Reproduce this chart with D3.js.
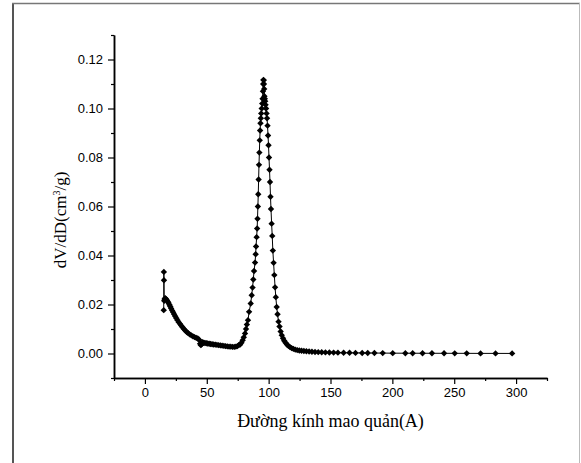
<!DOCTYPE html>
<html>
<head>
<meta charset="utf-8">
<script src="https://cdn.jsdelivr.net/npm/d3@7"></script>
<style>
  body { margin: 0; background: #fff; }
  svg { display: block; }
</style>
</head>
<body>
<div id="chart"></div>
<script>
// pore diameter (A) and dV/dD (cm3/g)
var diam = [
  15.2, 15.3, 15.4, 15.6, 15.9, 16.3, 16.8, 17.3, 17.9, 18.5, 19.1, 19.8, 20.5, 21.2, 22.0,
  22.8, 23.6, 24.5, 25.4, 26.3, 27.3, 28.3, 29.3, 30.4, 31.5, 32.6, 33.8, 35.0, 36.2, 37.5,
  38.8, 40.1, 41.4, 42.7, 43.8, 44.6, 45.2, 45.8, 46.5, 47.5, 48.5, 49.6, 50.7, 51.9, 53.1,
  54.3, 55.6, 56.9, 58.2, 59.6, 61.0, 62.4, 63.8, 65.2, 66.6, 68.0, 69.4, 70.8, 72.2, 73.5,
  74.7, 75.8, 76.9, 78.0, 79.0, 79.9, 80.9, 81.7, 82.4, 83.3, 84.2, 85.5, 86.3, 87.0, 87.6,
  88.2, 89.0, 89.5, 89.8, 90.3, 90.7, 91.0, 91.3, 91.6, 91.9, 92.2, 92.5, 92.8, 93.1, 93.4,
  93.7, 94.0, 94.4, 94.8, 95.1, 95.4, 95.6, 95.8, 96.0, 96.2, 96.4, 96.6, 96.9, 97.2, 97.5,
  97.9, 98.3, 98.7, 99.1, 99.5, 99.9, 100.3, 100.7, 101.1, 101.5, 101.9, 102.4, 102.9, 103.4, 104.0,
  104.6, 105.2, 105.8, 106.5, 107.2, 108.0, 108.8, 109.7, 110.6, 111.6, 112.6, 113.7, 114.8, 116.0, 117.3,
  118.6, 120.0, 121.5, 123.1, 124.8, 126.6, 128.5, 130.5, 132.7, 135.0, 137.5, 140.1, 142.9, 145.9, 149.1,
  152.5, 156.0, 160.6, 165.4, 170.2, 175.6, 180.1, 185.5, 192.2, 200.3, 210.5, 216.4, 224.4, 232.0, 241.8,
  250.4, 260.1, 271.3, 283.4, 296.8
];
var dvdd = [
  0.0177, 0.0333, 0.0299, 0.0215, 0.0222, 0.0226, 0.0224, 0.0220, 0.0216, 0.0211, 0.0206, 0.0199, 0.0192, 0.0184, 0.0176,
  0.0168, 0.0160, 0.0152, 0.0144, 0.0136, 0.0128, 0.0121, 0.0114, 0.0107, 0.0100, 0.0094, 0.0088, 0.0083, 0.0078, 0.0074,
  0.0070, 0.0067, 0.0064, 0.0061, 0.0056, 0.0040, 0.0034, 0.0038, 0.0046, 0.0044, 0.0043, 0.0042, 0.0041, 0.0040, 0.0039,
  0.0038, 0.0037, 0.0036, 0.0035, 0.0034, 0.0033, 0.0032, 0.0031, 0.0030, 0.0029, 0.0028, 0.0028, 0.0027, 0.0027, 0.0028,
  0.0030, 0.0034, 0.0036, 0.0044, 0.0054, 0.0066, 0.0082, 0.0100, 0.0118, 0.0136, 0.0170, 0.0204, 0.0238, 0.0269, 0.0302,
  0.0337, 0.0371, 0.0405, 0.0437, 0.0475, 0.0510, 0.0550, 0.0600, 0.0650, 0.0710, 0.0770, 0.0820, 0.0870, 0.0910, 0.0940,
  0.0960, 0.0980, 0.1000, 0.1020, 0.1040, 0.1070, 0.1100, 0.1117, 0.1115, 0.1100, 0.1080, 0.1050, 0.1040, 0.1030, 0.1015,
  0.1000, 0.0980, 0.0960, 0.0930, 0.0890, 0.0850, 0.0800, 0.0750, 0.0700, 0.0640, 0.0590, 0.0530, 0.0480, 0.0420, 0.0370,
  0.0320, 0.0270, 0.0230, 0.0190, 0.0160, 0.0130, 0.0110, 0.0090, 0.0075, 0.0062, 0.0052, 0.0044, 0.0037, 0.0031, 0.0026,
  0.0022, 0.0019, 0.0016, 0.0014, 0.0012, 0.0011, 0.0010, 0.0009, 0.0008, 0.0007, 0.0006, 0.00055, 0.0005, 0.00045, 0.0004,
  0.00037, 0.00034, 0.0003, 0.00028, 0.00025, 0.00023, 0.0002, 0.00018, 0.00016, 0.00014, 0.00012, 0.00011, 0.0001, 0.00009, 0.00008,
  0.00007, 0.00006, 0.00005, 0.00004, 0.00003
];

var xMajor = [0, 50, 100, 150, 200, 250, 300];
var xMinor = [-25, 25, 75, 125, 175, 225, 275, 325];
var yMajor = [0.00, 0.02, 0.04, 0.06, 0.08, 0.10, 0.12];
var yMinor = [-0.01, 0.01, 0.03, 0.05, 0.07, 0.09, 0.11, 0.13];

var xTitle = "Đường kính mao quản(A)";

var width = 581, height = 463;
var mLeft = 114, mRight = 547, mTop = 35, mBottom = 378;

var svg = d3.select("#chart").append("svg")
  .attr("width", width)
  .attr("height", height);

// frame round the picture
svg.append("line").attr("x1", 13).attr("x2", 13).attr("y1", 3).attr("y2", height)
  .attr("stroke", "#555").attr("stroke-width", 2);
svg.append("line").attr("x1", 12).attr("x2", 580).attr("y1", 3.5).attr("y2", 3.5)
  .attr("stroke", "#777").attr("stroke-width", 1.5);
svg.append("line").attr("x1", 579.5).attr("x2", 579.5).attr("y1", 3).attr("y2", height)
  .attr("stroke", "#bbb").attr("stroke-width", 1);

var x = d3.scaleLinear().domain([-25, 325]).range([mLeft, mRight]);
var y = d3.scaleLinear().domain([-0.01, 0.13]).range([mBottom, mTop]);

//x axis, minor ticks in their own group
svg.append("g").attr("transform", "translate(0," + mBottom + ")")
  .call(d3.axisBottom(x).tickValues(xMinor).tickSize(3).tickSizeOuter(0).tickFormat(""));
svg.append("g").attr("transform", "translate(0," + mBottom + ")")
  .call(d3.axisBottom(x).tickValues(xMajor).tickSize(6).tickSizeOuter(0).tickPadding(4)
    .tickFormat(d3.format("d")));

//y axis
svg.append("g").attr("transform", "translate(" + mLeft + ",0)")
  .call(d3.axisLeft(y).tickValues(yMinor).tickSize(3).tickSizeOuter(0).tickFormat(""));
svg.append("g").attr("transform", "translate(" + mLeft + ",0)")
  .call(d3.axisLeft(y).tickValues(yMajor).tickSize(6).tickSizeOuter(0).tickPadding(5)
    .tickFormat(d3.format(".2f")));

svg.selectAll(".domain").attr("stroke", "#000").attr("stroke-width", 1.5);
svg.selectAll(".tick line").attr("stroke", "#000").attr("stroke-width", 1.2);
svg.selectAll(".tick text")
  .attr("font-family", "'Liberation Sans', Arial, sans-serif")
  .attr("font-size", 13)
  .attr("fill", "#000");

//titles
svg.append("text")
  .attr("x", (mLeft + mRight) / 2)
  .attr("y", 427)
  .attr("text-anchor", "middle")
  .attr("font-family", "'Liberation Serif', 'Times New Roman', serif")
  .attr("font-size", 18)
  .text(xTitle);

var yt = svg.append("text")
  .attr("transform", "translate(66,220) rotate(-90)")
  .attr("text-anchor", "middle")
  .attr("font-family", "'Liberation Serif', 'Times New Roman', serif")
  .attr("font-size", 17);
yt.append("tspan").text("dV/dD(cm");
yt.append("tspan").attr("dy", -6).attr("font-size", 10).text("3");
yt.append("tspan").attr("dy", 6).text("/g)");

//series
var pts = diam.map(function (d, i) { return [d, dvdd[i]]; });

svg.append("path")
  .datum(pts)
  .attr("fill", "none")
  .attr("stroke", "#000")
  .attr("stroke-width", 1)
  .attr("d", d3.line().x(function (d) { return x(d[0]); }).y(function (d) { return y(d[1]); }));

var diamond = d3.symbol().type(d3.symbolDiamond2 || d3.symbolDiamond).size(26);
svg.selectAll(".pt")
  .data(pts)
  .enter().append("path")
  .attr("class", "pt")
  .attr("transform", function (d) { return "translate(" + x(d[0]) + "," + y(d[1]) + ")"; })
  .attr("d", diamond)
  .attr("fill", "#000");
</script>
</body>
</html>
